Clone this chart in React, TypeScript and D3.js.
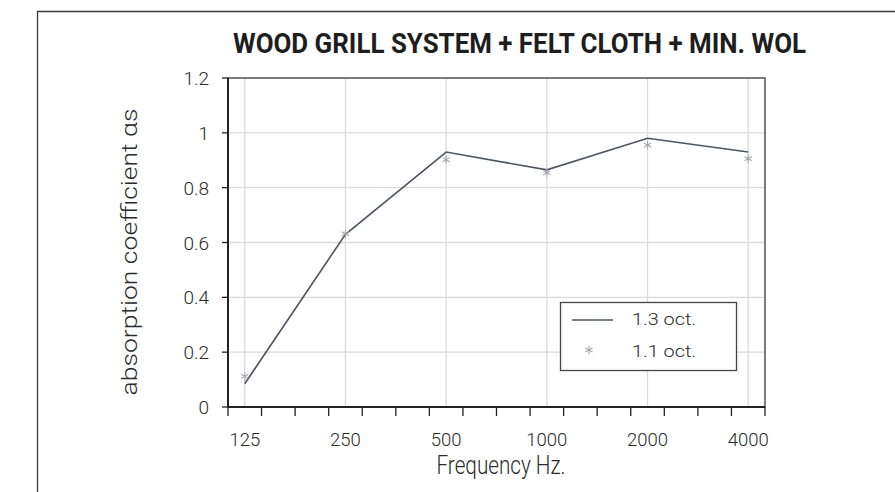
import React, { useEffect, useRef } from 'react';
import * as d3 from 'd3';

// 1/3-octave band centres shown on the category axis
const categories = ['125', '160', '200', '250', '315', '400', '500', '630', '800', '1000', '1250', '1600', '2000', '2500', '3150', '4000'];
const labelBands = ['125', '250', '500', '1000', '2000', '4000'];
const thirdOctave = [0.085, 0.63, 0.93, 0.865, 0.98, 0.93];
const fullOctave = [0.112, 0.632, 0.902, 0.855, 0.955, 0.906];
const yTicks = [0, 0.2, 0.4, 0.6, 0.8, 1, 1.2];
const legendLabels = ['1.3 oct.', '1.1 oct.'];

const W = 895, H = 492;
const font = "Roboto, 'Liberation Sans', sans-serif";

const App = () => {
  const ref = useRef<SVGSVGElement>(null);

  useEffect(() => {
    const svg = d3.select(ref.current);
    svg.selectAll('*').remove();

    const margin = { left: 228, right: 765, top: 78, bottom: 407 };
    const x = d3.scaleBand().domain(categories).range([margin.left, margin.right]);
    const y = d3.scaleLinear().domain([0, 1.2]).range([margin.bottom, margin.top]);
    const cx = (c: string) => (x(c) as number) + x.bandwidth() / 2;

    svg.append('rect').attr('width', W).attr('height', H).attr('fill', '#fff');

    // outer frame (left + top only visible)
    svg.append('path')
      .attr('d', `M37.5,${H} V11.5 H${W}`)
      .attr('fill', 'none').attr('stroke', '#3a3a3a').attr('stroke-width', 1.3);

    // title
    svg.append('text')
      .attr('x', 519.5).attr('y', 53)
      .attr('text-anchor', 'middle')
      .attr('font-family', font)
      .attr('font-weight', 'bold').attr('font-size', 28)
      .attr('textLength', 573).attr('lengthAdjust', 'spacingAndGlyphs')
      .attr('fill', '#1e1e1e')
      .text('WOOD GRILL SYSTEM + FELT CLOTH + MIN. WOL');

    // gridlines
    const grid = svg.append('g').attr('stroke', '#dadada').attr('stroke-width', 1.3);
    grid.selectAll('line.h').data(yTicks.slice(1, -1)).join('line')
      .attr('x1', margin.left).attr('x2', margin.right)
      .attr('y1', d => y(d)).attr('y2', d => y(d));
    grid.selectAll('line.v').data(labelBands).join('line')
      .attr('x1', d => cx(d)).attr('x2', d => cx(d))
      .attr('y1', margin.top).attr('y2', margin.bottom);

    // plot border
    svg.append('rect')
      .attr('x', margin.left).attr('y', margin.top)
      .attr('width', margin.right - margin.left).attr('height', margin.bottom - margin.top)
      .attr('fill', 'none').attr('stroke', '#444').attr('stroke-width', 1.4);
    svg.append('path')
      .attr('d', `M${margin.left},${margin.top} V${margin.bottom} H${margin.right}`)
      .attr('fill', 'none').attr('stroke', '#222').attr('stroke-width', 2);

    // y axis ticks + labels
    const ya = svg.append('g');
    ya.selectAll('line').data(yTicks).join('line')
      .attr('x1', margin.left - 6).attr('x2', margin.left)
      .attr('y1', d => y(d)).attr('y2', d => y(d))
      .attr('stroke', '#222').attr('stroke-width', 1.3);
    ya.selectAll('text').data(yTicks).join('text')
      .attr('x', 209).attr('y', d => y(d) + 7)
      .attr('text-anchor', 'end')
      .attr('font-family', font).attr('font-weight', 300).attr('font-size', 19)
      .attr('fill', '#2a2a2a')
      .text(d => String(d));

    // x axis ticks at category boundaries
    const bounds = [...categories.map(c => x(c) as number), margin.right];
    svg.append('g').selectAll('line').data(bounds).join('line')
      .attr('x1', d => d).attr('x2', d => d)
      .attr('y1', margin.bottom).attr('y2', margin.bottom + 9)
      .attr('stroke', '#222').attr('stroke-width', 1.3);
    svg.append('g').selectAll('text').data(labelBands).join('text')
      .attr('x', d => cx(d)).attr('y', 445.5)
      .attr('text-anchor', 'middle')
      .attr('font-family', font).attr('font-weight', 300).attr('font-size', 18.5)
      .attr('fill', '#2a2a2a')
      .text(d => d);

    // axis titles
    svg.append('text')
      .attr('transform', 'translate(137,252) rotate(-90)')
      .attr('text-anchor', 'middle')
      .attr('font-family', font).attr('font-weight', 300).attr('font-size', 22)
      .attr('textLength', 287).attr('lengthAdjust', 'spacingAndGlyphs')
      .attr('fill', '#2a2a2a')
      .text('absorption coefficient αs');
    svg.append('text')
      .attr('x', 501).attr('y', 473.5)
      .attr('text-anchor', 'middle')
      .attr('font-family', font).attr('font-weight', 300).attr('font-size', 25)
      .attr('textLength', 129).attr('lengthAdjust', 'spacingAndGlyphs')
      .attr('fill', '#2a2a2a')
      .text('Frequency Hz.');

    // series
    const line = d3.line<number>()
      .x((_, i) => cx(labelBands[i]))
      .y(d => y(d));
    svg.append('path')
      .datum(thirdOctave)
      .attr('d', line)
      .attr('fill', 'none').attr('stroke', '#4b5663').attr('stroke-width', 1.6);

    const star = d3.symbol().type(d3.symbolAsterisk).size(48);
    svg.append('g').selectAll('path').data(fullOctave).join('path')
      .attr('transform', (d, i) => `translate(${cx(labelBands[i])},${y(d)})`)
      .attr('d', star)
      .attr('fill', 'none').attr('stroke', '#a3a7ab').attr('stroke-width', 1.1);

    // legend
    const lg = svg.append('g');
    lg.append('rect')
      .attr('x', 560.5).attr('y', 302.5).attr('width', 176).attr('height', 68)
      .attr('fill', '#fff').attr('stroke', '#444').attr('stroke-width', 1.3);
    lg.append('line')
      .attr('x1', 572).attr('x2', 613).attr('y1', 320).attr('y2', 320)
      .attr('stroke', '#4b5663').attr('stroke-width', 1.6);
    lg.append('path')
      .attr('transform', 'translate(589,350)')
      .attr('d', star)
      .attr('fill', 'none').attr('stroke', '#a3a7ab').attr('stroke-width', 1.1);
    lg.selectAll('text').data(legendLabels).join('text')
      .attr('x', 632).attr('y', (_, i) => 325 + i * 31.5)
      .attr('font-family', font).attr('font-weight', 300).attr('font-size', 17)
      .attr('textLength', 64).attr('lengthAdjust', 'spacingAndGlyphs')
      .attr('fill', '#2a2a2a')
      .text(d => d);
  }, []);

  return (
    <div style={{ position: 'absolute', left: 0, top: 0 }}>
      <svg ref={ref} width={W} height={H} style={{ display: 'block' }} />
    </div>
  );
};

export default App;
